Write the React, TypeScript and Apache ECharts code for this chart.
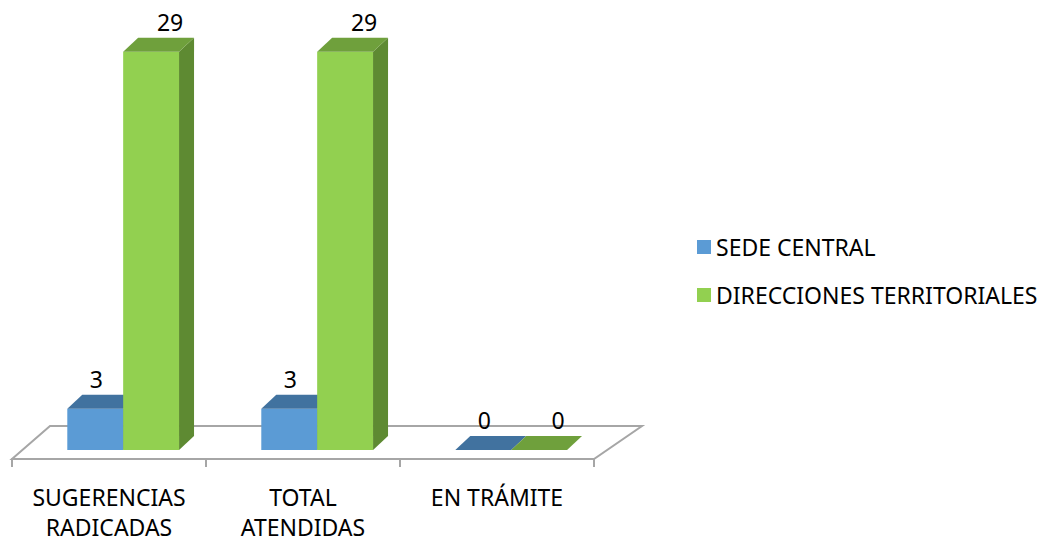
import React, { useEffect, useRef } from "react";
import * as echarts from "echarts";

const categories = ["SUGERENCIAS\nRADICADAS", "TOTAL\nATENDIDAS", "EN TRÁMITE"];
const seriesNames = ["SEDE CENTRAL", "DIRECCIONES TERRITORIALES"];
const sedeCentral = [3, 3, 0];
const direccionesTerritoriales = [29, 29, 0];

const FONT = "'Noto Sans', sans-serif";

const palettes = [
  { front: "#5B9BD5", top: "#41729F", side: "#3F6E98", labelDx: 1 },
  { front: "#92D050", top: "#6FA03C", side: "#5E8A32", labelDx: 19 },
];

function makeBarRenderer(seriesIdx: number) {
  const pal = palettes[seriesIdx];
  return (params: any, api: any) => {
    const i = api.value(0);
    const v = api.value(1);
    const base = api.coord([i, 0]);
    const topPt = api.coord([i, v]);
    const catW = api.size([1, 0])[0];
    const barW = catW * 0.288;
    const shiftX = catW * 0.073;
    const lift = 9;
    const dx = 15;
    const dy = -14;
    const x0 = base[0] + shiftX - barW + seriesIdx * barW;
    const x1 = x0 + barW;
    const yb = base[1] - lift;
    const yt = topPt[1] - lift;
    const children: any[] = [];
    const h = yb - yt;
    if (h > 0.5) {
      children.push({
        type: "polygon",
        shape: { points: [[x1, yt], [x1 + dx, yt + dy], [x1 + dx, yb + dy], [x1, yb]] },
        style: { fill: pal.side },
      });
      children.push({
        type: "rect",
        shape: { x: x0, y: yt, width: barW, height: h },
        style: { fill: pal.front },
      });
    }
    children.push({
      type: "polygon",
      shape: { points: [[x0, yt], [x1, yt], [x1 + dx, yt + dy], [x0 + dx, yt + dy]] },
      style: { fill: pal.top },
    });
    children.push({
      type: "text",
      style: {
        text: String(v),
        x: (x0 + x1) / 2 + pal.labelDx,
        y: yt + dy - 16,
        align: "center",
        verticalAlign: "middle",
        fontSize: 23,
        fontFamily: FONT,
        fill: "#000",
      },
    });
    return { type: "group", children };
  };
}

function renderFloor(params: any, api: any) {
  const catW = api.size([1, 0])[0];
  const first = api.coord([0, 0]);
  const last = api.coord([categories.length - 1, 0]);
  const left = first[0] - catW / 2;
  const right = last[0] + catW / 2;
  const y = first[1];
  return {
    type: "polygon",
    shape: {
      points: [
        [left, y],
        [right, y],
        [right + 48, y - 33],
        [left + 38, y - 33],
      ],
    },
    style: { fill: "#ffffff", stroke: "#a6a6a6", lineWidth: 2 },
  };
}

export default function App() {
  const ref = useRef<HTMLDivElement>(null);
  useEffect(() => {
    if (!ref.current) return;
    const chart = echarts.init(ref.current, null, { renderer: "svg" });
    chart.setOption({
      animation: false,
      backgroundColor: "#ffffff",
      grid: { left: 12, right: 444, top: 47, bottom: 80, containLabel: false },
      xAxis: {
        type: "category",
        data: categories,
        boundaryGap: true,
        axisLine: { show: true, lineStyle: { color: "#a6a6a6", width: 2 } },
        axisTick: { show: true, length: 8, lineStyle: { color: "#a6a6a6", width: 2 } },
        axisLabel: {
          margin: 23,
          fontSize: 23,
          lineHeight: 30,
          fontFamily: FONT,
          color: "#000",
          interval: 0,
        },
        z: 1,
      },
      yAxis: { type: "value", min: 0, max: 30, show: false, splitLine: { show: false } },
      legend: {
        data: seriesNames.map((n, k) => ({ name: n, itemStyle: { color: palettes[k].front } })),
        orient: "vertical",
        left: 697,
        top: 235,
        padding: 0,
        icon: "rect",
        itemWidth: 14,
        itemHeight: 14,
        itemGap: 24,
        selectedMode: false,
        textStyle: { fontSize: 23, fontFamily: FONT, color: "#000", lineHeight: 24 },
      },
      series: [
        {
          type: "custom",
          name: "floor",
          renderItem: renderFloor,
          data: [[0, 0]],
          encode: { x: 0, y: 1 },
          z: 0,
          silent: true,
        },
        {
          type: "custom",
          name: seriesNames[0],
          renderItem: makeBarRenderer(0),
          itemStyle: { color: palettes[0].front },
          data: sedeCentral.map((v, i) => [i, v]),
          encode: { x: 0, y: 1 },
          z: 2,
        },
        {
          type: "custom",
          name: seriesNames[1],
          renderItem: makeBarRenderer(1),
          itemStyle: { color: palettes[1].front },
          data: direccionesTerritoriales.map((v, i) => [i, v]),
          encode: { x: 0, y: 1 },
          z: 3,
        },
      ],
    });
    return () => chart.dispose();
  }, []);
  return (
    <div
      ref={ref}
      style={{ position: "fixed", left: 0, top: 0, width: 1038, height: 542 }}
    />
  );
}
